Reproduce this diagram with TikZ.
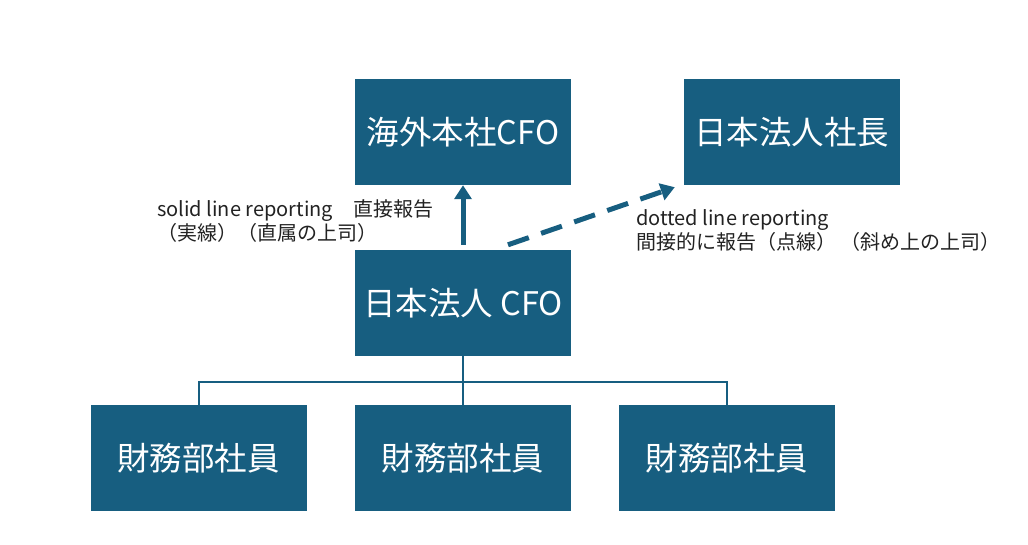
\documentclass[tikz,border=0pt]{standalone}
\usepackage{fontspec}
\setmainfont{Noto Sans CJK JP}
\usepackage{tikz}
\usetikzlibrary{arrows.meta}
\definecolor{orgblue}{RGB}{23,94,128}
\definecolor{notetext}{RGB}{34,34,34}

\begin{document}
\begin{tikzpicture}[x=1pt, y=-1pt,
  box/.style={fill=orgblue, text=white, minimum width=216pt, minimum height=106pt, inner sep=0pt, font=\fontsize{32.5}{39}\selectfont},
  note/.style={anchor=west, align=left, text=notetext, inner sep=0pt, font=\fontsize{20}{24.5}\selectfont},
  report/.style={draw=orgblue, line width=5pt, -{Triangle[length=14pt, width=17pt]}}]
  \useasboundingbox (0,0) rectangle (1028,544);
  % top row
  \node[box] (hq) at (463,132) {海外本社CFO};
  \node[box] (pres) at (791.5,132) {日本法人社長};
  % middle
  \node[box] (cfo) at (463,303) {日本法人 CFO};
  % staff
  \node[box] (st1) at (198.5,458) {財務部社員};
  \node[box] (st2) at (463,458) {財務部社員};
  \node[box] (st3) at (727,458) {財務部社員};
  % reporting lines
  \draw[report] ([yshift=5pt]cfo.north) -- (hq.south);
  \draw[report, dash pattern=on 22pt off 13pt] ([xshift=45pt, yshift=5pt]cfo.north) -- ([xshift=-8.5pt, yshift=-2pt]pres.south west);
  \node[note] (solidnote) at (157,221) {solid line reporting　直接報告\\（実線）（直属の上司）};
  \node[note] (dotnote) at (636,230.5) {dotted line reporting\\間接的に報告（点線） （斜め上の上司）};
  % tree to staff
  \coordinate (bus) at (463,382);
  \draw[orgblue, line width=2pt] (cfo.south) -- (st2.north);
  \draw[orgblue, line width=2pt] (st1.north) |- (bus) -| (st3.north);
\end{tikzpicture}
\end{document}
